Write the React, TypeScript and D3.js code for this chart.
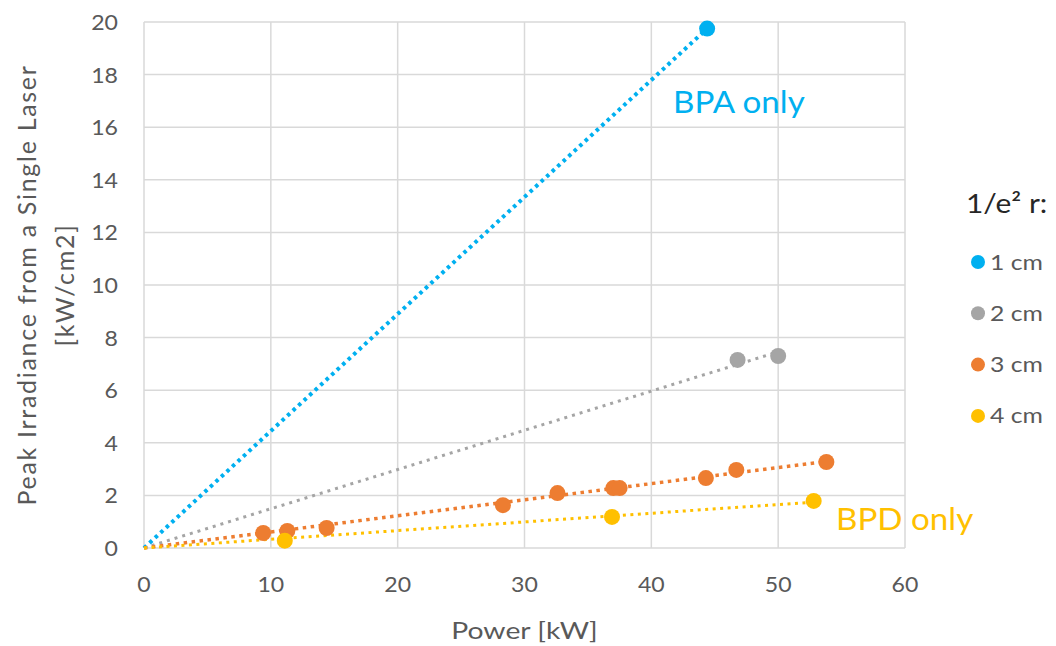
import { useEffect, useRef } from "react";
import * as d3 from "d3";

// series values: [power kW, peak irradiance kW/cm2]
const seriesNames = ["1 cm", "2 cm", "3 cm", "4 cm"];
const seriesColors = ["#00B0F0", "#A5A5A5", "#ED7D31", "#FFC000"];

const blue1cm = [[44.4, 19.75]];
const gray2cm = [
  [46.8, 7.15],
  [50.0, 7.3],
];
const orange3cm = [
  [9.4, 0.57],
  [11.3, 0.65],
  [14.4, 0.76],
  [28.3, 1.63],
  [32.6, 2.09],
  [37.0, 2.28],
  [37.5, 2.28],
  [44.3, 2.66],
  [46.7, 2.97],
  [53.8, 3.27],
];
const yellow4cm = [
  [11.1, 0.28],
  [36.9, 1.18],
  [52.8, 1.79],
];

const xTicks = [0, 10, 20, 30, 40, 50, 60];
const yTicks = [0, 2, 4, 6, 8, 10, 12, 14, 16, 18, 20];

const FONT = "Lato, 'Open Sans', sans-serif";

const App = () => {
  const ref = useRef<SVGSVGElement>(null);

  useEffect(() => {
    const width = 1056;
    const height = 646;
    const margin = { top: 22, right: 151, bottom: 98, left: 144 };

    const root = d3.select(ref.current);
    root.selectAll("*").remove();

    const x = d3
      .scaleLinear()
      .domain([0, 60])
      .range([margin.left, width - margin.right]);
    const y = d3
      .scaleLinear()
      .domain([0, 20])
      .range([height - margin.bottom, margin.top]);

    // the source picture is a little wider than tall, so stretch text a bit
    const label = (
      px: number,
      py: number,
      txt: string,
      size: number,
      color: string,
      anchor = "start",
      sx = 1.15
    ) =>
      root
        .append("text")
        .attr("transform", `translate(${px},${py}) scale(${sx},1)`)
        .attr("text-anchor", anchor)
        .attr("font-family", FONT)
        .attr("font-size", size)
        .attr("fill", color)
        .text(txt);

    // grid
    root
      .append("g")
      .selectAll("line")
      .data(yTicks)
      .enter()
      .append("line")
      .attr("x1", x(0))
      .attr("x2", x(60))
      .attr("y1", (d) => y(d))
      .attr("y2", (d) => y(d))
      .attr("stroke", "#D9D9D9")
      .attr("stroke-width", 1.5);
    root
      .append("g")
      .selectAll("line")
      .data(xTicks)
      .enter()
      .append("line")
      .attr("x1", (d) => x(d))
      .attr("x2", (d) => x(d))
      .attr("y1", y(0))
      .attr("y2", y(20))
      .attr("stroke", "#D9D9D9")
      .attr("stroke-width", 1.5);

    // tick labels
    xTicks.forEach((d) => label(x(d), y(0) + 44, String(d), 22, "#595959", "middle", 1.05));
    yTicks.forEach((d) => label(x(0) - 26, y(d) + 8, String(d), 22, "#595959", "end", 1.05));

    // axis titles
    label((x(0) + x(60)) / 2, 639, "Power [kW]", 24, "#595959", "middle", 1.18);
    const yt = root
      .append("text")
      .attr("transform", `translate(36,${(y(0) + y(20)) / 2}) rotate(-90)`)
      .attr("text-anchor", "middle")
      .attr("font-family", FONT)
      .attr("font-size", 25)
      .attr("letter-spacing", 1.7)
      .attr("fill", "#595959");
    yt.append("tspan").attr("x", 0).attr("dy", 0).text("Peak Irradiance from a Single Laser");
    yt.append("tspan").attr("x", 0).attr("dy", 38).text("[kW/cm2]");

    // trendlines: least squares through the origin
    const allSeries = [blue1cm, gray2cm, orange3cm, yellow4cm];
    const trendStyle = [
      { w: 4, dash: "3.5 4" },
      { w: 3, dash: "3 5" },
      { w: 3.5, dash: "3.5 4.5" },
      { w: 3, dash: "3 4.5" },
    ];
    const line = d3
      .line<number[]>()
      .x((d) => x(d[0]))
      .y((d) => y(d[1]));

    allSeries.forEach((s, i) => {
      const slope = d3.sum(s, (d) => d[0] * d[1]) / d3.sum(s, (d) => d[0] * d[0]);
      const xmax = d3.max(s, (d) => d[0]) as number;
      root
        .append("path")
        .attr(
          "d",
          line([
            [0, 0],
            [xmax, slope * xmax],
          ])
        )
        .attr("fill", "none")
        .attr("stroke", seriesColors[i])
        .attr("stroke-width", trendStyle[i].w)
        .attr("stroke-dasharray", trendStyle[i].dash);
    });

    // markers
    allSeries.forEach((s, i) => {
      root
        .append("g")
        .selectAll("circle")
        .data(s)
        .enter()
        .append("circle")
        .attr("cx", (d) => x(d[0]))
        .attr("cy", (d) => y(d[1]))
        .attr("r", 8)
        .attr("fill", seriesColors[i]);
    });

    // annotations
    label(673, 113, "BPA only", 31, "#00B0F0", "start", 1.07);
    label(836, 530, "BPD only", 31, "#FFC000", "start", 1.07);

    // legend
    label(966, 213, "1/e² r:", 26, "#262626", "start", 1.15);
    seriesNames.forEach((name, i) => {
      const cy = 262 + i * 51.3;
      root
        .append("circle")
        .attr("cx", 978)
        .attr("cy", cy)
        .attr("r", 7)
        .attr("fill", seriesColors[i]);
      label(990, cy + 7.5, name, 21, "#595959", "start", 1.18);
    });
  }, []);

  return (
    <svg
      ref={ref}
      width={1056}
      height={646}
      style={{ position: "absolute", left: 0, top: 0, background: "#fff" }}
    />
  );
};

export default App;
